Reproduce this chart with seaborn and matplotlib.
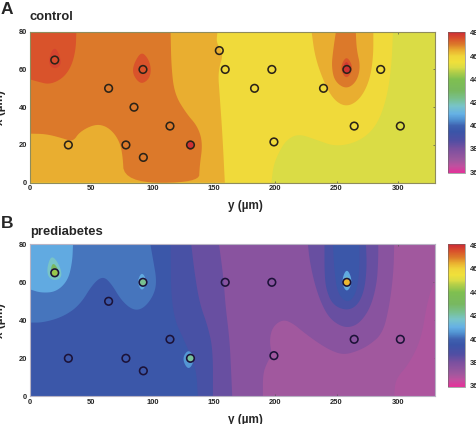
import numpy as np
import matplotlib
matplotlib.use('Agg')
import matplotlib.pyplot as plt
import seaborn as sns
from matplotlib.colors import LinearSegmentedColormap, Normalize
from matplotlib.cm import ScalarMappable

# colour scale, temperature against colour
scale_temps = [36, 36.5, 37, 38, 38.7, 39.5, 40, 40.5, 41, 41.7, 42.3, 43, 44, 44.7, 45, 45.5, 46, 46.5, 47, 47.5, 48]
scale_colors = ['#e0359a', '#c0509f', '#a0589e', '#7a509f', '#504ea3', '#3a55a8', '#3f62b0', '#5090d0', '#65b0e5',
                '#78c4c8', '#78c090', '#78b860', '#7fbf50', '#b8d048', '#d9dc45', '#f0e03a', '#f0d53a', '#eab030',
                '#dc7a2a', '#d9532b', '#cf3034']
cbar_ticks = [36, 38, 40, 42, 44, 46, 48]
y_ticks = [0, 50, 100, 150, 200, 250, 300]
x_ticks = [0, 20, 40, 60, 80]

# recording sites, control (y, x in um)
ctrl_y = [20.4, 92.3, 64.3, 85, 114.3, 31.5, 78.4, 131, 92.6, 154.5, 159.3, 197.3, 183.2, 239.4, 258.4, 286, 264.4, 302, 199]
ctrl_x = [65, 60, 50, 40, 30, 20, 20, 20, 13.4, 70, 60, 60, 50, 50, 60, 60, 30, 30, 21.6]
ctrl_peak_y = [20.4, 92.3, 131, 258.4]
ctrl_peak_x = [65, 60, 20, 60]
ctrl_peak_t = [47.6, 47.5, 48, 48]

# recording sites, prediabetes
pre_y = [20.4, 92.3, 64.3, 114.3, 31.5, 78.4, 131, 92.6, 159.3, 197.3, 258.4, 264.4, 302, 199]
pre_x = [65, 60, 50, 30, 20, 20, 20, 13.4, 60, 60, 60, 30, 30, 21.4]
pre_peak_y = [20.4, 92.3, 131, 258.4]
pre_peak_x = [65, 60, 20, 60]
pre_peak_t = [44.3, 42.3, 42.2, 46.4]

# temperature contours, as (y, x) points
a_yellow = [(296, 80), (294.8, 61.5), (290.7, 44), (282.6, 30), (269, 22), (250, 19), (234, 22.6), (219, 26),
            (209, 22.6), (202.5, 15.5), (198.4, 8.5), (197, 0)]
a_lorange_l = [(153, 80), (152, 74), (158, 68.5), (153.4, 59), (154.7, 47), (157, 26), (159, 0)]
a_lorange_r = [(229.7, 80), (232.4, 67), (239, 54.4), (247.3, 44), (258, 40), (269, 44), (277, 54), (280, 67), (280, 80)]
a_orange_l = [(0, 26), (13.6, 25.8), (27, 23.5), (35.3, 21.7), (40.7, 27), (53, 31), (62.4, 30), (70.6, 25),
              (75.5, 17.3), (77, 0)]
a_orange_r = [(114.8, 80), (115.4, 61.5), (118, 47), (127.6, 36.7), (137, 29.7), (141, 20.8), (138.4, 8.5), (137.9, 0)]
a_orange_b = [(249.5, 80), (247.3, 70.4), (245.9, 61.5), (248.6, 53.5), (258, 49.5), (266.4, 53.5), (269.6, 61.5),
              (266.4, 70.4), (265.7, 80)]
a_dark_l = [(38, 80), (37.5, 70.3), (33.9, 61.5), (27, 55.3), (16.3, 52), (6.8, 53.5), (0, 54.8)]
a_dark_m = [(91, 69.4), (85.5, 64), (83.6, 58.8), (86.9, 54.4), (91.7, 52.3), (97.7, 55.3), (99, 60.6), (96.4, 66)]
a_dark_r = [(258.1, 67.7), (252.7, 60.6), (258.1, 54.4), (264, 60.6)]
a_red_l = [(20.4, 72), (16.3, 67.7), (15.7, 62.4), (20.4, 60.2), (25.8, 62.4), (24.4, 67.7)]
a_red_m = [(130.8, 23), (127, 20), (130.8, 16.4), (134.9, 20)]
a_red_r = [(258.1, 65), (254.6, 60.5), (258.1, 56.5), (261.7, 60.5)]

# temperature contours
b_corner = [(330, 61), (324, 50), (319, 30), (309, 17), (298, 9), (297, 0)]
b_purple_low = [(190, 0), (190, 12), (193.8, 18.2), (197.4, 21.8), (195.3, 29.6), (198, 36.7), (206.3, 40.5),
                (214.4, 38.4), (222.6, 34), (233.4, 28.8), (244.3, 24.4), (255.2, 21.8), (266, 23.5), (276.9, 27),
                (287.7, 33.2), (293, 47.2), (296.4, 64.7), (297, 80)]
b_violet_l = [(154.2, 80), (156, 71.8), (158, 61.2), (159.6, 47.2), (162.9, 29.6), (164.2, 12), (165, 0)]
b_violet_r = [(226.7, 80), (228, 71.8), (232, 59.5), (237.5, 49), (244.3, 41), (253.9, 36.7), (262, 36.3), (270, 39.3),
              (278, 47.2), (282.9, 59.5), (284, 71.8), (284, 80)]
b_indigo_l = [(131.6, 80), (134.4, 64.7), (138.4, 49), (145.2, 36.7), (149.3, 24.4), (149.3, 0)]
b_indigo_r = [(240.2, 80), (240.2, 64.7), (241.6, 56), (247, 48), (258.5, 45), (267.4, 48), (272.8, 56), (274.7, 68), (274, 80)]
b_blue_l = [(114.8, 80), (115.4, 44), (127.6, 27), (135.7, 14.5), (137, 0)]
b_blue_r = [(247, 80), (248.4, 64.7), (251, 54), (258.5, 49), (265.5, 53), (268.7, 64.7), (268.7, 80)]
b_mid = [(0, 38.8), (10.9, 38.8), (27, 41.8), (40.7, 47.9), (51.6, 59.3), (59.7, 63.3), (66.5, 59.3), (74.6, 50.5),
         (84, 45.3), (92.3, 46), (100.4, 52.3), (103.7, 60), (100.4, 72.5), (98.3, 80)]
b_light = [(35.3, 80), (34.7, 70.7), (31.2, 61), (21.7, 55), (9.5, 54.4), (0, 56.3)]
b_teal_l = [(17.9, 74.6), (14.1, 68), (14.9, 62.8), (20.4, 60.7), (26.6, 62.8), (24.4, 69)]
b_green_l = [(19, 70.7), (16.8, 66.3), (20.4, 62.8), (24, 66.3)]
b_light_m = [(91.5, 65.8), (87.4, 60.2), (91.5, 54.9), (95.8, 60.2)]
b_light_p = [(129.5, 25), (124, 19.8), (129.5, 13.3), (134.9, 19.8)]
b_light_r = [(258.4, 67.9), (253.8, 60.4), (258.4, 54.2), (263.3, 60.4)]
b_teal_r = [(258.4, 64), (255.5, 60.2), (258.4, 56.3), (261.5, 60.2)]

YMAX = 330
XMAX = 80
W, H = 477.0, 424.0

sns.set_style('white')
plt.rcParams['font.family'] = ['Liberation Sans', 'DejaVu Sans']
plt.rcParams['font.weight'] = 'bold'

cmap = LinearSegmentedColormap.from_list('temp', [((t - 36) / 12.0, c) for t, c in zip(scale_temps, scale_colors)], N=512)
norm = Normalize(36, 48)


def rounded(pts, closed):
    # corner cutting so the contours do not look like polygons
    pts = np.array(pts, dtype=float)
    for i in range(3):
        if closed:
            nxt = np.roll(pts, -1, axis=0)
            pts = np.column_stack((0.75 * pts + 0.25 * nxt, 0.25 * pts + 0.75 * nxt)).reshape(-1, 2)
        else:
            a, b = pts[:-1], pts[1:]
            mid = np.column_stack((0.75 * a + 0.25 * b, 0.25 * a + 0.75 * b)).reshape(-1, 2)
            pts = np.vstack((pts[:1], mid, pts[-1:]))
    return pts


def region(ax, pts, temp, corners=None):
    if corners is None:
        shape = rounded(pts, True)
    else:
        shape = rounded(pts, False)
        if len(corners) > 0:
            shape = np.vstack((shape, corners))
    ax.fill(shape[:, 0], shape[:, 1], color=cmap(norm(temp)), linewidth=0)


def axes_px(left, top, right, bottom):
    return fig.add_axes([left / W, 1 - bottom / H, (right - left) / W, (bottom - top) / H])


def finish(ax, ys, xs, pk_y, pk_x, pk_t, ring, edge):
    sns.scatterplot(x=pk_y, y=pk_x, hue=pk_t, hue_norm=norm, palette=cmap, s=26, linewidth=0, legend=False, ax=ax, zorder=5)
    sns.scatterplot(x=ys, y=xs, facecolor='none', edgecolor=ring, s=30, linewidth=1.15, ax=ax, zorder=6)
    ax.set_xlim(0, YMAX)
    ax.set_ylim(0, XMAX)
    ax.set_xticks(y_ticks)
    ax.set_yticks(x_ticks)
    ax.tick_params(direction='in', length=1.5, width=0.5, labelsize=5.4, pad=2, top=True, right=True, color='#555555',
                   bottom=True, left=True)
    for s in ax.spines.values():
        s.set_visible(True)
        s.set_color(edge)
        s.set_linewidth(0.8)
    ax.set_xlabel('y (µm)', fontsize=8.4, fontweight='bold')
    ax.set_ylabel('x (µm)', fontsize=8.4, fontweight='bold')
    ax.xaxis.set_label_coords((245 - 29.7) / 405, -0.115)
    ax.yaxis.set_label_coords(-0.058, 0.5)


def colorbar(top, bottom):
    cax = axes_px(448, top, 465.3, bottom)
    sm = ScalarMappable(norm=Normalize(35.9, 48.1), cmap=LinearSegmentedColormap.from_list(
        'temp2', [(0, scale_colors[0])] + [((t - 35.9) / 12.2, c) for t, c in zip(scale_temps, scale_colors)] + [(1, scale_colors[-1])], N=512))
    cb = fig.colorbar(sm, cax=cax, ticks=cbar_ticks)
    cb.outline.set_linewidth(0.4)
    cb.outline.set_edgecolor('#666666')
    cb.ax.tick_params(length=0, labelsize=5.4, pad=3.5)


fig = plt.figure(figsize=(4.77, 4.24), dpi=100)

# panel A
ax = axes_px(29.7, 31.7, 434.7, 182.7)
ax.set_facecolor(cmap(norm(45)))
region(ax, a_yellow, 45.75, [(0, 0), (0, 80)])
region(ax, a_lorange_l, 46.5, [(0, 0), (0, 80)])
region(ax, a_lorange_r, 46.5, [])
region(ax, a_orange_r + a_orange_l[::-1], 47, [(0, 80)])
region(ax, a_orange_b, 47, [])
region(ax, a_dark_l, 47.5, [(0, 80)])
region(ax, a_dark_m, 47.5)
region(ax, a_dark_r, 47.5)
region(ax, a_red_l, 47.7)
region(ax, a_red_m, 47.8)
region(ax, a_red_r, 47.9)
finish(ax, ctrl_y, ctrl_x, ctrl_peak_y, ctrl_peak_x, ctrl_peak_t, '#2b2318', '#8f8c5c')
colorbar(31.7, 173.3)

# panel B
ax = axes_px(29.7, 244.3, 434.7, 396.3)
ax.set_facecolor(cmap(norm(37.0)))
region(ax, b_corner, 36.8, [(330, 0)])
region(ax, b_purple_low, 37.6, [(0, 80), (0, 0)])
region(ax, b_violet_l, 38.3, [(0, 0), (0, 80)])
region(ax, b_violet_r, 38.3, [])
region(ax, b_indigo_l, 39.0, [(0, 0), (0, 80)])
region(ax, b_indigo_r, 39.0, [])
region(ax, b_blue_l, 39.6, [(0, 0), (0, 80)])
region(ax, b_blue_r, 39.6, [])
region(ax, b_mid, 40.2, [(0, 80)])
region(ax, b_light, 40.9, [(0, 80)])
region(ax, b_teal_l, 41.7)
region(ax, b_green_l, 43)
region(ax, b_light_m, 40.9)
region(ax, b_light_p, 40.6)
region(ax, b_light_r, 40.9)
region(ax, b_teal_r, 41.8)
finish(ax, pre_y, pre_x, pre_peak_y, pre_peak_x, pre_peak_t, '#1c1238', '#b9b4c4')
colorbar(244.3, 387)

# panel letters and titles
fig.text(1 / W, 1 - 14.5 / H, 'A', fontsize=12.5, fontweight='bold')
fig.text(30 / W, 1 - 20 / H, 'control', fontsize=9.4, fontweight='bold')
fig.text(1 / W, 1 - 227.5 / H, 'B', fontsize=12.5, fontweight='bold')
fig.text(30 / W, 1 - 235 / H, 'prediabetes', fontsize=9.4, fontweight='bold')

fig.savefig('out.png', dpi=100)
